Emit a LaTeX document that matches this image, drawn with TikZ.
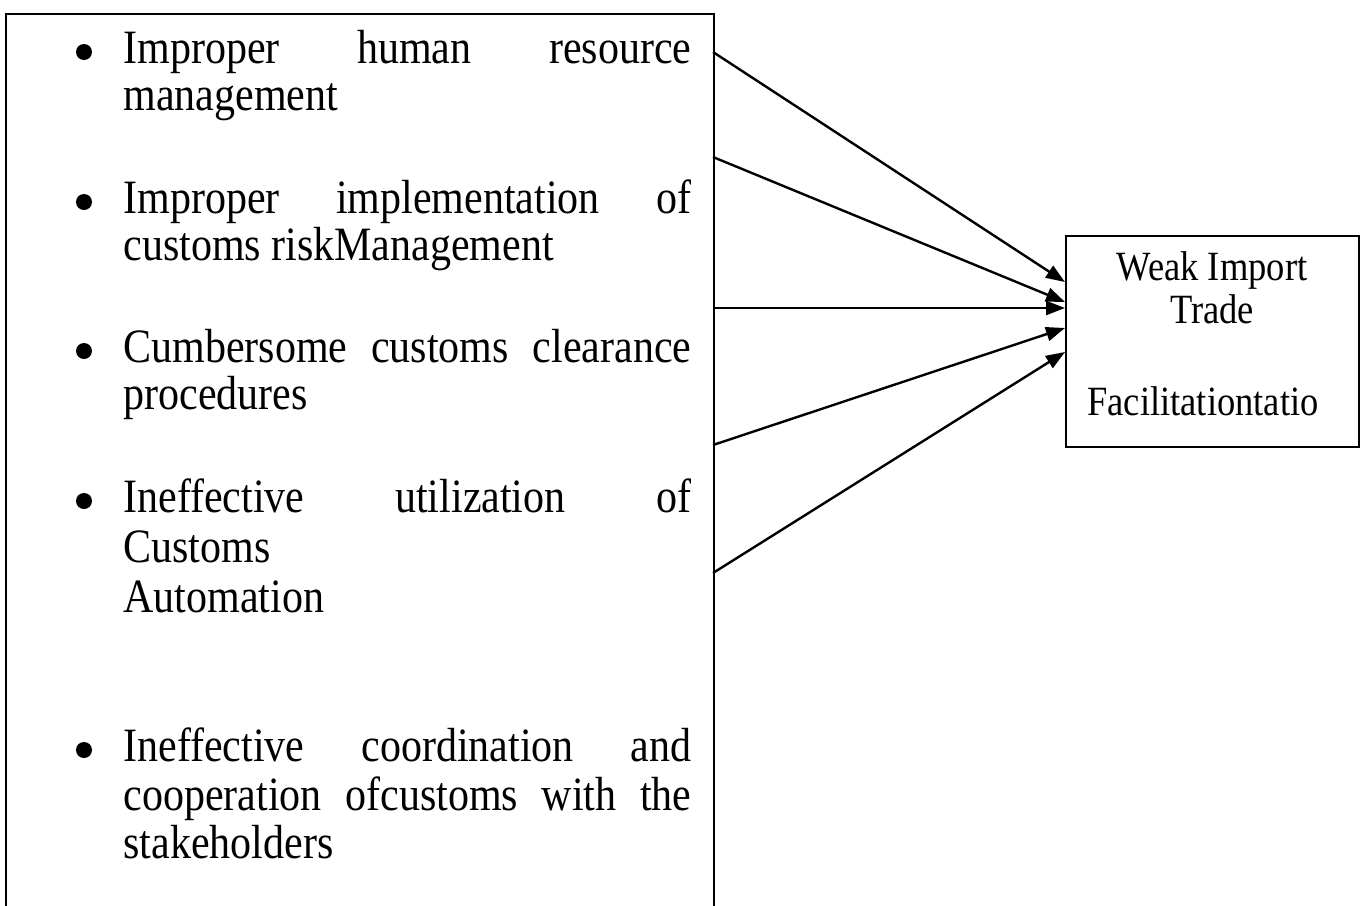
\documentclass[tikz,border=0pt]{standalone}
\usepackage{fontspec}
\setmainfont{Liberation Serif}
\usetikzlibrary{arrows.meta}
\newcommand\vstr[1]{\scalebox{1}[1.14]{#1}}
\begin{document}
\begin{tikzpicture}[x=0.5pt,y=-0.5pt,
  itemtext/.style={anchor=base west, inner sep=0pt, font=\fontsize{21}{24}\selectfont},
  bul/.style={circle, fill=black, inner sep=0pt, minimum size=8pt},
  boxline/.style={draw, line width=1pt, inner sep=0pt},
  conn/.style={line width=1.2pt, -{Triangle[length=9.5pt,width=7pt]}},
  rtext/.style={anchor=base, inner sep=0pt, font=\fontsize{18.25}{22}\selectfont},
  rtextl/.style={anchor=base west, inner sep=0pt, font=\fontsize{18.25}{22}\selectfont}]
\useasboundingbox (0,0) rectangle (1362,906);
\begin{scope}
\clip (0,0) rectangle (1362,906);
% left box (open at the bottom, runs off the page)
\node[boxline, anchor=north west, minimum width=354pt, minimum height=460pt] (lbox) at (5,13) {};
\end{scope}
% right box
\node[boxline, anchor=north west, minimum width=146.5pt, minimum height=105.5pt] (wib) at (1065,235) {};
\node[rtext] (r1) at (1212,280) {\vstr{Weak Import}};
\node[rtext] (r2) at (1212,323) {\vstr{Trade}};
\node[rtextl] (r3) at (1087,415) {\vstr{Facilitationtatio}};
% bullets
\node[bul] (b1) at (84,52) {};
\node[bul] (b2) at (84,202) {};
\node[bul] (b3) at (84,351) {};
\node[bul] (b4) at (84,501) {};
\node[bul] (b5) at (84,750) {};
% item lines
\node[itemtext] (l1a) at (123,63) {\vstr{\makebox[284pt][s]{Improper human resource}}};
\node[itemtext] (l1b) at (123,110) {\vstr{management}};
\node[itemtext] (l2a) at (123,213) {\vstr{\makebox[284pt][s]{Improper implementation of}}};
\node[itemtext] (l2b) at (123,260) {\vstr{customs riskManagement}};
\node[itemtext] (l3a) at (123,362) {\vstr{\makebox[284pt][s]{Cumbersome customs clearance}}};
\node[itemtext] (l3b) at (123,409) {\vstr{procedures}};
\node[itemtext] (l4a) at (123,512) {\vstr{\makebox[284pt][s]{Ineffective utilization of}}};
\node[itemtext] (l4b) at (123,562) {\vstr{Customs}};
\node[itemtext] (l4c) at (123,612) {\vstr{Automation}};
\node[itemtext] (l5a) at (123,761) {\vstr{\makebox[284pt][s]{Ineffective coordination and}}};
\node[itemtext] (l5b) at (123,810) {\vstr{\makebox[284pt][s]{cooperation ofcustoms with the}}};
\node[itemtext] (l5c) at (123,858) {\vstr{stakeholders}};
% connector ends
\coordinate (s1) at (713,52);
\coordinate (s2) at (713,157);
\coordinate (s3) at (713,308);
\coordinate (s4) at (713,445);
\coordinate (s5) at (713,573);
\coordinate (t1) at (1065,282);
\coordinate (t2) at (1065,302);
\coordinate (t3) at (1065,308);
\coordinate (t4) at (1065,328);
\coordinate (t5) at (1065,352);
\draw[conn] (s1) -- (t1);
\draw[conn] (s2) -- (t2);
\draw[conn] (s3) -- (t3);
\draw[conn] (s4) -- (t4);
\draw[conn] (s5) -- (t5);
\end{tikzpicture}
\end{document}
